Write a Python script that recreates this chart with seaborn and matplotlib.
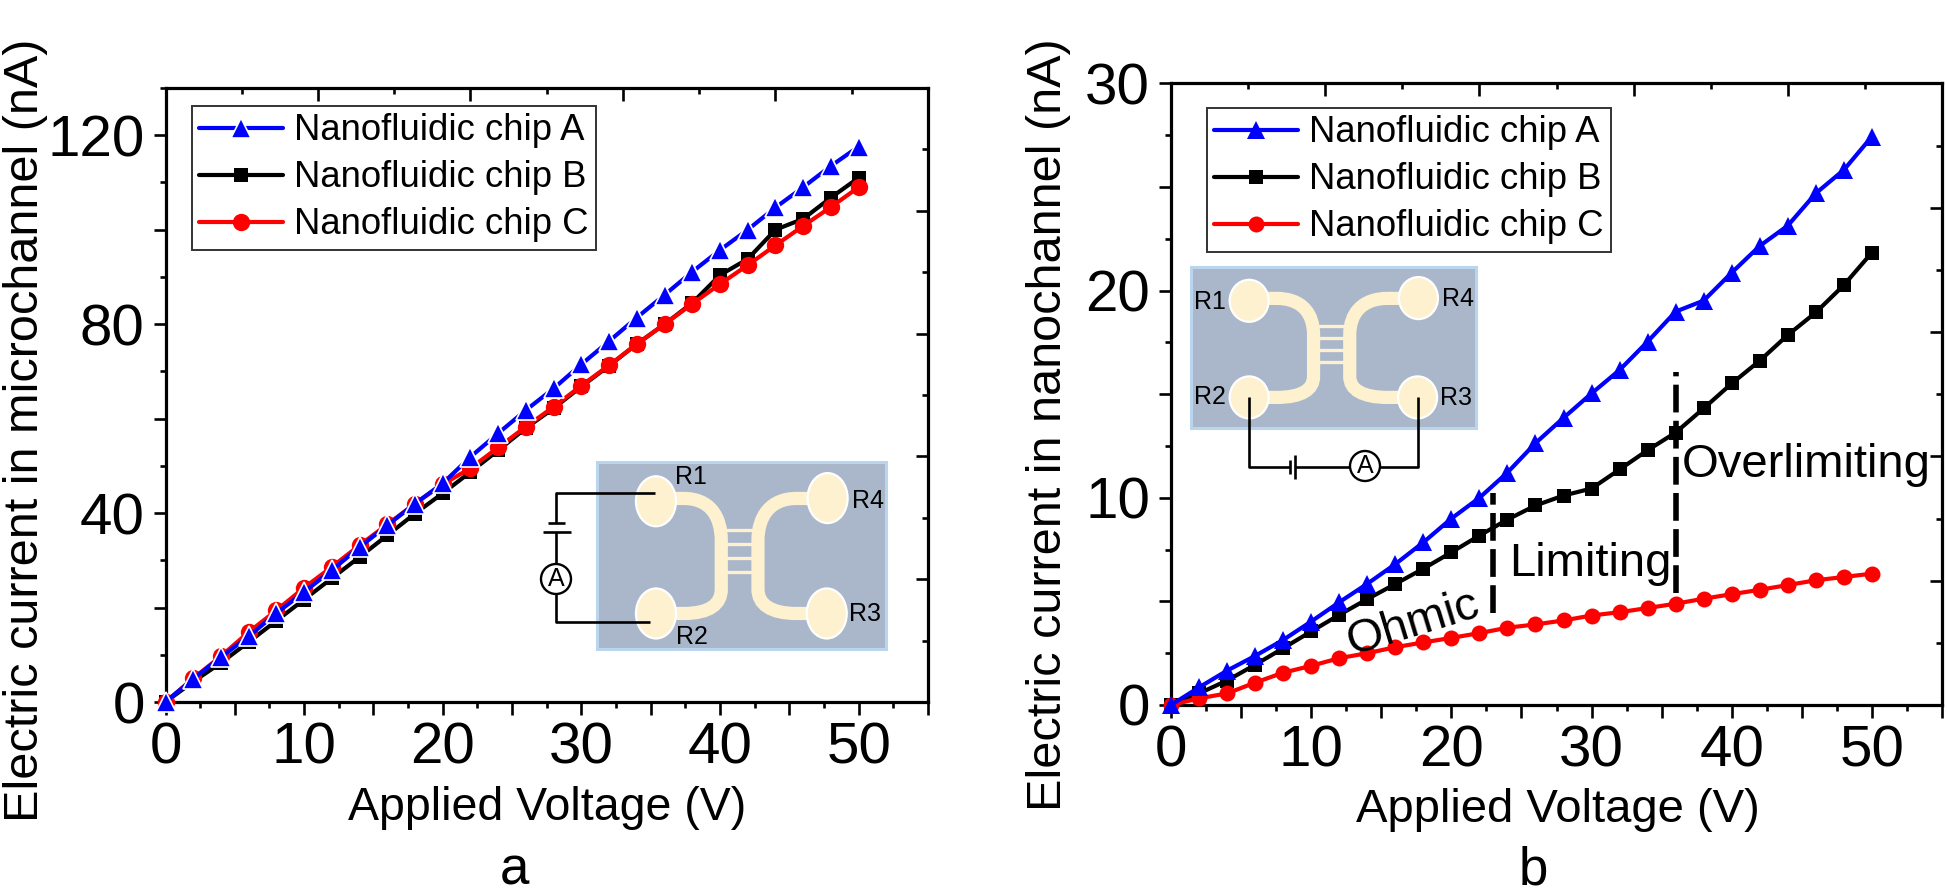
import numpy as np
import pandas as pd
import matplotlib
matplotlib.use("Agg")
import matplotlib.pyplot as plt
import seaborn as sns
from matplotlib.patches import Ellipse, Rectangle, Circle, PathPatch
from matplotlib.path import Path

voltage = list(range(0, 52, 2))

micro_a = [0, 4.9, 9.5, 13.9, 18.8, 23.3, 27.9, 32.8, 37.4, 42, 46.3, 51.9, 56.9, 61.8, 66.4, 71.5, 76.4, 81.4, 86.2, 91.1, 95.7, 100, 104.7, 109, 113.5, 117.6]
micro_b = [0, 4.3, 8.3, 12.7, 17.2, 21.7, 26.2, 30.7, 35.3, 39.9, 44.2, 48.7, 53.3, 58, 62.2, 66.8, 71.2, 75.8, 80, 84.5, 90.4, 93.8, 100, 102.3, 106.8, 111]
micro_c = [0, 5, 9.7, 14.8, 19.4, 24.2, 28.6, 33.2, 37.6, 42, 46.1, 49.5, 53.9, 58.3, 62.5, 67, 71.3, 75.8, 80, 84.3, 88.5, 92.5, 96.7, 100.8, 104.8, 109]

nano_a = [0, 0.85, 1.66, 2.37, 3.14, 4.03, 4.96, 5.85, 6.8, 7.85, 9, 10, 11.22, 12.64, 13.86, 15.04, 16.17, 17.54, 18.99, 19.52, 20.87, 22.16, 23.14, 24.7, 25.83, 27.44]
nano_b = [0, 0.56, 1.18, 1.94, 2.74, 3.55, 4.35, 5.11, 5.84, 6.58, 7.37, 8.18, 8.95, 9.63, 10.11, 10.45, 11.37, 12.3, 13.15, 14.32, 15.52, 16.62, 17.86, 18.95, 20.27, 21.84]
nano_c = [0, 0.32, 0.56, 1.08, 1.56, 1.89, 2.26, 2.5, 2.79, 3.02, 3.24, 3.47, 3.73, 3.89, 4.08, 4.32, 4.48, 4.68, 4.89, 5.13, 5.35, 5.56, 5.79, 6.02, 6.18, 6.34]

chip_names = ["Nanofluidic chip A", "Nanofluidic chip B", "Nanofluidic chip C"]
x_label = "Applied Voltage (V)"
y_label_a = "Electric current in microchannel (nA)"
y_label_b = "Electric current in nanochannel (nA)"

boundary_ohmic = ([23, 23], [4.44, 10.24])
boundary_limit = ([36, 36], [5.4, 16.09])

W, H = 1947, 896
DPI = 100
sns.set_theme(style="ticks")
plt.rcParams["font.family"] = ["Liberation Sans", "DejaVu Sans"]
plt.rcParams["text.color"] = "black"
plt.rcParams["axes.labelcolor"] = "black"

fig = plt.figure(figsize=(W / DPI, H / DPI), dpi=DPI, facecolor="white")


def px_axes(l, t, r, b):
    return fig.add_axes([l / W, 1 - b / H, (r - l) / W, (b - t) / H], facecolor="white")


def setup(ax, ymax, y_major, y_labelled, y_minor, top_maj, top_min, right_maj, right_min):
    ax.set_xlim(0, 55)
    ax.set_ylim(0, ymax)
    ax.set_xticks(np.arange(0, 56, 5), [str(v) if v % 10 == 0 else "" for v in range(0, 56, 5)])
    ax.set_xticks(np.arange(0, 55.1, 2.5), minor=True)
    ax.set_yticks(y_major, [str(v) if v in y_labelled else "" for v in y_major])
    ax.set_yticks(y_minor, minor=True)
    ax.tick_params(which="major", length=9, width=1.9, labelsize=42, color="black", labelcolor="black")
    ax.tick_params(which="minor", length=4.5, width=1.9, color="black")
    ax.tick_params(axis="x", which="major", pad=5)
    ax.tick_params(axis="y", which="major", pad=6)
    for s in ax.spines.values():
        s.set_visible(True)
        s.set_linewidth(2.3)
        s.set_color("black")
    top = ax.secondary_xaxis("top")
    top.set_xticks(top_maj, [""] * len(top_maj))
    top.set_xticks(top_min, minor=True)
    right = ax.secondary_yaxis("right")
    right.set_yticks(right_maj, [""] * len(right_maj))
    right.set_yticks(right_min, minor=True)
    for sec in (top, right):
        sec.tick_params(which="major", direction="in", length=9, width=1.9, color="black")
        sec.tick_params(which="minor", direction="in", length=4.5, width=1.9, color="black")
        for s in sec.spines.values():
            s.set_visible(False)


def series(ax, ya, yb, yc, sizes, halo):
    df = pd.DataFrame({"v": voltage, "A": ya, "B": yb, "C": yc})
    styles = [("B", "black", "s", sizes[1]), ("C", "#ff0000", "o", sizes[2]), ("A", "#0000ff", "^", sizes[0])]
    for key, col, mk, ms in styles:
        sns.lineplot(data=df, x="v", y=key, ax=ax, color=col, marker=mk, markersize=ms,
                     linewidth=3.0, estimator=None, sort=False, legend=False,
                     markeredgecolor="white" if (halo and key == "A") else col,
                     markeredgewidth=1.2 if (halo and key == "A") else 0,
                     clip_on=False, zorder=3)
    lines = {"B": ax.lines[0], "C": ax.lines[1], "A": ax.lines[2]}
    return [lines["A"], lines["B"], lines["C"]]


def legend(ax, handles, l, t):
    leg = ax.legend(handles, chip_names, loc="upper left", bbox_to_anchor=(l, t), borderaxespad=0,
                    frameon=True, fancybox=False, framealpha=1, edgecolor="#333333", fontsize=26.3,
                    handlelength=2.3, handletextpad=0.3, labelspacing=0.33,
                    borderpad=0.2, labelcolor="black")
    leg.get_frame().set_linewidth(1.4)
    leg.set_zorder(5)


# ---------- panel a
axa = px_axes(165.5, 88, 928, 702)
setup(axa, 130, list(range(0, 121, 20)), [0, 40, 80, 120], list(range(0, 131, 10)),
      np.arange(11, 55, 11), np.arange(5.5, 55, 5.5), np.arange(26, 130, 26), np.arange(13, 130, 13))
ha = series(axa, micro_a, micro_b, micro_c, (14.5, 10.5, 12.5), True)
legend(axa, ha, (192 - 165.5) / 762.5, 1 - (106 - 88) / 614)
axa.set_xlabel(x_label, fontsize=33.5)
axa.set_ylabel(y_label_a, fontsize=35)
axa.xaxis.set_label_coords((547 - 165.5) / 762.5, (702 - 830) / 614)
axa.xaxis.label.set_verticalalignment("bottom")
axa.yaxis.set_label_coords((48 - 165.5) / 762.5, (702 - 430) / 614)
axa.yaxis.label.set_verticalalignment("bottom")

# ---------- panel b
axb = px_axes(1171, 83.5, 1942, 705)
setup(axb, 30, [0, 5, 10, 15, 20, 25, 30], [0, 10, 20, 30], list(np.arange(0, 30.1, 2.5)),
      np.arange(11, 55, 11), np.arange(5.5, 55, 5.5), np.arange(6, 30, 6), np.arange(3, 30, 3))
hb = series(axb, nano_a, nano_b, nano_c, (12.5, 9.5, 11.5), False)
legend(axb, hb, (1207 - 1171) / 771, 1 - (108 - 83.5) / 621.5)
axb.set_xlabel(x_label, fontsize=34)
axb.set_ylabel(y_label_b, fontsize=35)
axb.xaxis.set_label_coords((1558 - 1171) / 771, (705 - 832) / 621.5)
axb.xaxis.label.set_verticalalignment("bottom")
axb.yaxis.set_label_coords((1071 - 1171) / 771, (705 - 425) / 621.5)
axb.yaxis.label.set_verticalalignment("bottom")
for xs, ys in (boundary_ohmic, boundary_limit):
    axb.plot(xs, ys, color="black", lw=4.0, ls=(0, (5, 1.5)), zorder=4)
axb.text(17.3, 3.95, "Ohmic", fontsize=34, rotation=17, ha="center", va="center", color="black", zorder=6)
axb.text(29.9, 6.8, "Limiting", fontsize=34, ha="center", va="center", color="black", zorder=6)
axb.text(45.3, 11.6, "Overlimiting", fontsize=34, ha="center", va="center", color="black", zorder=6)

# ---------- overlay in pixel coordinates for the chip schematics
ov = fig.add_axes([0, 0, 1, 1], facecolor="none", zorder=10)
ov.set_xlim(0, W)
ov.set_ylim(H, 0)
ov.axis("off")

CREAM = "#fdf1cf"
BOX = "#aab7ca"
BOXEDGE = "#b9d6ee"


def chip(x0, y0, x1, y1, ew, eh):
    bw, bh = x1 - x0, y1 - y0
    P = lambda u, v: (x0 + u * bw, y0 + v * bh)
    ov.add_patch(Rectangle((x0, y0), bw, bh, fc=BOX, ec=BOXEDGE, lw=2.2))
    C4, L2, M = Path.CURVE4, Path.LINETO, Path.MOVETO
    left = [P(.20, .195), P(.30, .195), P(.39, .195), P(.43, .29), P(.43, .42), P(.43, .68),
            P(.43, .76), P(.39, .81), P(.30, .81), P(.20, .81)]
    right = [P(.80, .195), P(.69, .195), P(.60, .195), P(.557, .29), P(.557, .42), P(.557, .68),
             P(.557, .76), P(.60, .81), P(.69, .81), P(.80, .81)]
    codes = [M, L2, C4, C4, C4, L2, C4, C4, C4, L2]
    for pts in (left, right):
        ov.add_patch(PathPatch(Path(pts, codes), fc="none", ec=CREAM, lw=9.5, capstyle="butt"))
    for v in (.365, .44, .515, .59):
        a, b = P(.43, v), P(.557, v)
        ov.plot([a[0], b[0]], [a[1], b[1]], color=CREAM, lw=2.4, solid_capstyle="butt")
    for u, v in ((.204, .21), (.204, .81), (.798, .193), (.795, .81)):
        cx, cy = P(u, v)
        ov.add_patch(Ellipse((cx, cy), ew, eh, fc=CREAM, ec="white", lw=1.6, zorder=3))


def wire(xs, ys):
    ov.plot(xs, ys, color="black", lw=1.9, solid_capstyle="butt", zorder=4)


def ammeter(x, y):
    ov.add_patch(Circle((x, y), 15, fc="white", ec="black", lw=1.7, zorder=5))
    ov.text(x, y, "A", fontsize=18, ha="center", va="center", color="black", zorder=6)


def rlabel(x, y, s):
    ov.text(x, y, s, fontsize=18, ha="center", va="center", color="black", zorder=6)


chip(597, 462, 886, 649, 40, 50)
wire([655, 556, 556], [493, 493, 523])
wire([548, 565], [523, 523])
wire([543, 571], [532, 532])
wire([556, 556], [532, 565])
wire([556, 556, 650], [594, 622, 622])
ammeter(556, 579)
for (x, y, s) in ((691, 477, "R1"), (692, 637, "R2"), (865, 614, "R3"), (868, 501, "R4")):
    rlabel(x, y, s)

chip(1191, 267, 1476, 428, 39, 42)
wire([1249, 1249, 1290], [397, 467, 467])
wire([1290, 1290], [460, 474])
wire([1295, 1295], [455, 479])
wire([1295, 1350], [467, 467])
wire([1380, 1418, 1418], [467, 467, 397])
ammeter(1365, 466)
for (x, y, s) in ((1210, 302, "R1"), (1210, 397, "R2"), (1456, 398, "R3"), (1458, 299, "R4")):
    rlabel(x, y, s)

fig.text(514 / W, 1 - 884 / H, "a", fontsize=38, ha="center", va="baseline", color="black")
fig.text(1533 / W, 1 - 884 / H, "b", fontsize=38, ha="center", va="baseline", color="black")

fig.savefig("out.png", dpi=DPI, facecolor="white")
